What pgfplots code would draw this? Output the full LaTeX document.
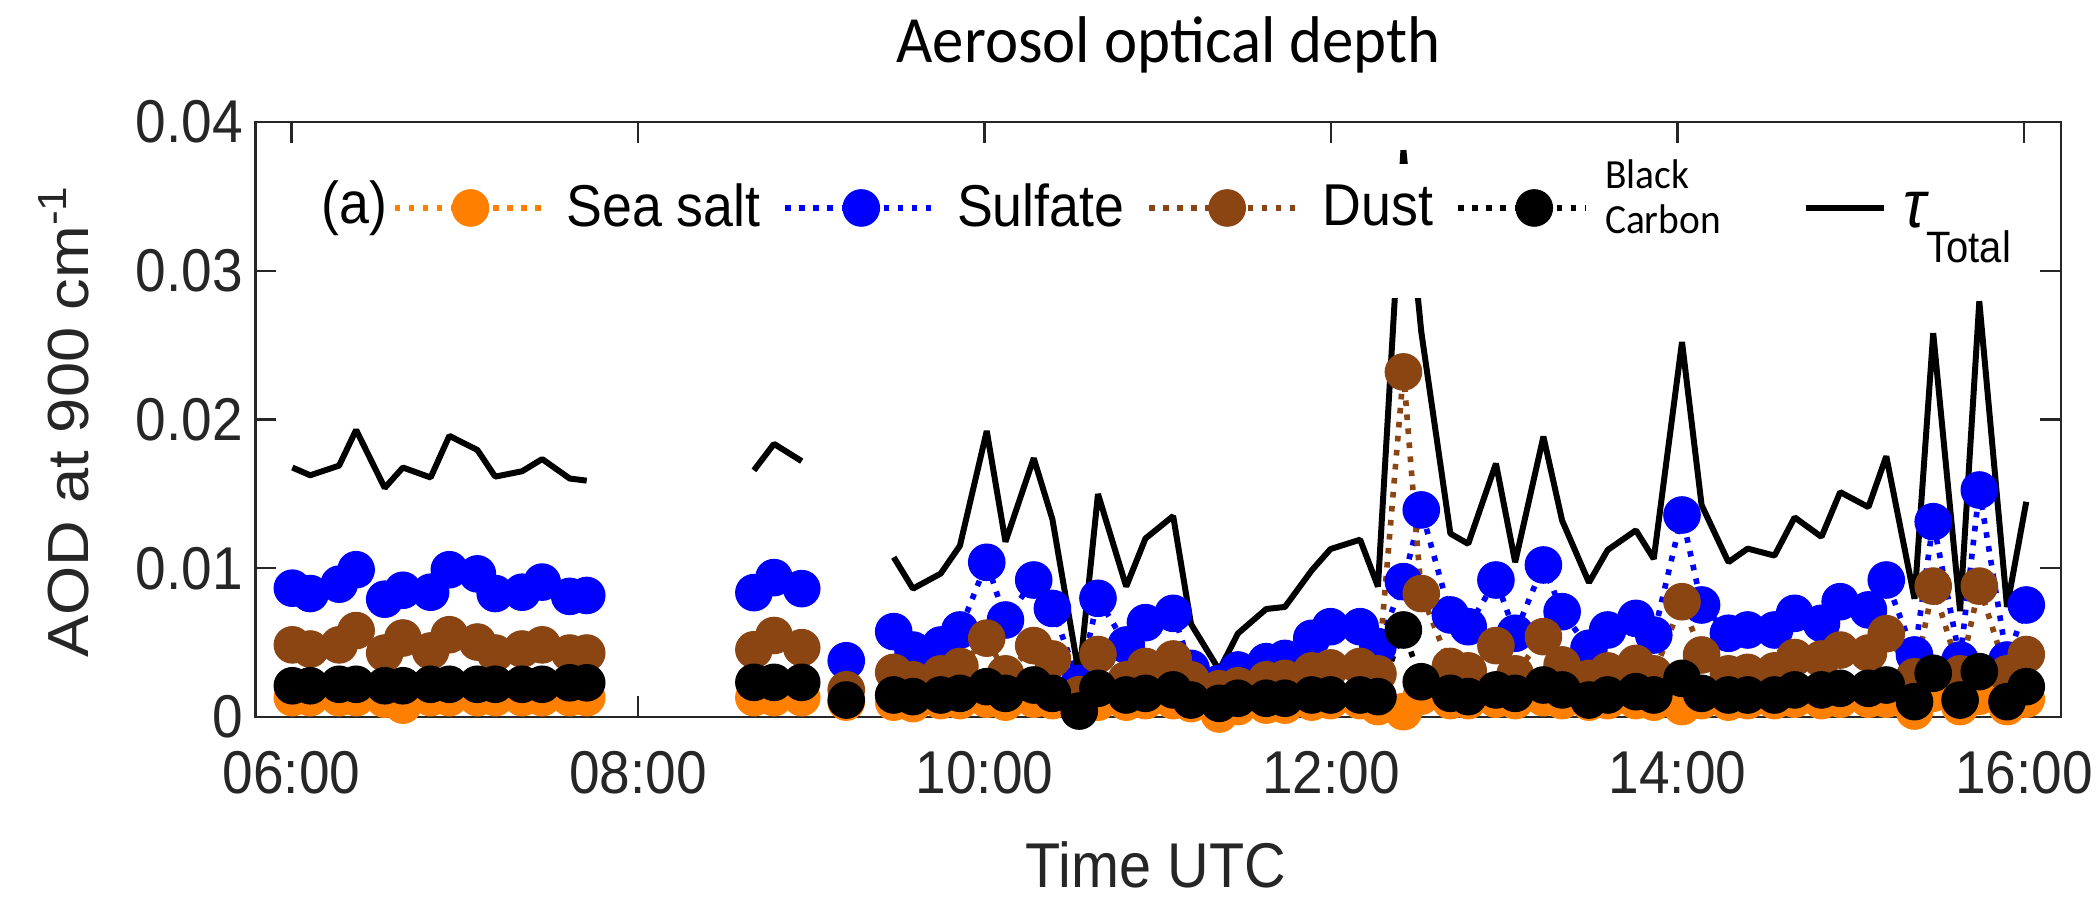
\documentclass[border=0pt]{standalone}
\usepackage{pgfplots}
\pgfplotsset{compat=1.18}
\usepackage{pgfplotstable}
\usepackage{fontspec}
\setmainfont{Liberation Sans}[FakeStretch=0.91]
\newfontfamily\ylabfont{Liberation Sans}[FakeStretch=1.09]
\newfontfamily\calibri{Carlito}[FakeStretch=0.95]
\definecolor{ssorange}{RGB}{255,128,0}
\definecolor{sublue}{RGB}{0,0,255}
\definecolor{dustbr}{RGB}{139,69,19}
\definecolor{axgray}{RGB}{38,38,38}

\pgfplotstableread{
t      ss      su       du      bc      tot
6.005  0.0013  0.00866  0.00485 0.0021  0.01677
6.108  0.0013  0.00830  0.00457 0.0021  0.01625
6.275  0.0013  0.00893  0.00485 0.0022  0.01690
6.373  0.0013  0.00990  0.00581 0.0022  0.01930
6.538  0.0012  0.00792  0.00430 0.0021  0.01540
6.643  0.0008  0.00852  0.00531 0.0021  0.01677
6.803  0.0013  0.00839  0.00444 0.0022  0.01610
6.911  0.0013  0.00990  0.00553 0.0022  0.01890
7.073  0.0013  0.00962  0.00504 0.0022  0.01795
7.176  0.0013  0.00830  0.00430 0.0022  0.01616
7.331  0.0013  0.00839  0.00457 0.0022  0.01652
7.447  0.0013  0.00907  0.00485 0.0022  0.01734
7.606  0.0013  0.00811  0.00430 0.0023  0.01603
7.704  0.0013  0.00817  0.00430 0.0023  0.01589
8.2    nan     nan      nan     nan     nan
8.669  0.0013  0.00836  0.00452 0.00233 0.01658
8.785  0.0013  0.00937  0.00548 0.00233 0.01836
8.945  0.0013  0.00863  0.00466 0.00233 0.01720
9.1    nan     nan      nan     nan     nan
9.202  0.0010  0.00378  0.00183 0.00114 nan
9.35   nan     nan      nan     nan     nan
9.476  0.0010  0.00574  0.0030  0.00148 0.01074
9.587  0.0009  0.00450  0.0025  0.00137 0.00863
9.747  0.0011  0.00484  0.0029  0.00148 0.00964
9.858  0.0011  0.00585  0.0034  0.00159 0.01151
10.013 0.0012  0.01040  0.0053  0.00204 0.01923
10.121 0.0010  0.00652  0.0029  0.00159 0.01178
10.284 0.0012  0.00921  0.0048  0.00215 0.01740
10.392 0.0011  0.00730  0.0039  0.00159 0.01329
10.547 0.0008  0.00226  0.0015  0.00040 0.00274
10.655 0.0010  0.00798  0.0042  0.00193 0.01499
10.818 0.0010  0.00484  0.0025  0.00148 0.00877
10.929 0.0011  0.00634  0.0034  0.00159 0.01200
11.089 0.0011  0.00697  0.0039  0.00182 0.01351
11.192 0.0009  0.00327  0.0025  0.00114 0.00625
11.355 0.0002  0.00226  0.0019  0.00092 0.00315
11.463 0.0007  0.00316  0.0021  0.00126 0.00562
11.626 0.0008  0.00372  0.0025  0.00126 0.00726
11.734 0.0008  0.00394  0.0026  0.00126 0.00740
11.889 0.0010  0.00529  0.0031  0.00148 0.00986
11.997 0.0011  0.00607  0.0033  0.00148 0.01129
12.168 0.0011  0.00607  0.0034  0.00148 0.01192
12.271 0.0007  0.00473  0.0029  0.00137 0.00877
12.418 0.00036 0.00910  0.0232  0.00585 0.0381
12.521 0.0014  0.01392  0.0083  0.00237 0.0259
12.689 0.0011  0.00686  0.0034  0.00159 0.01233
12.792 0.0011  0.00607  0.0031  0.00137 0.01164
12.952 0.0012  0.00921  0.0048  0.00182 0.01704
13.063 0.0011  0.00563  0.0029  0.00159 0.01041
13.226 0.0013  0.01022  0.0054  0.00215 0.01885
13.334 0.0011  0.00708  0.0035  0.00182 0.01321
13.489 0.0010  0.00462  0.0026  0.00114 0.00904
13.597 0.0011  0.00585  0.0031  0.00148 0.01123
13.760 0.0011  0.00663  0.0036  0.00170 0.01255
13.863 0.0010  0.00551  0.0029  0.00148 0.01063
14.026 0.0007  0.01358  0.00775 0.00260 0.02521
14.139 0.0011  0.00753  0.00417 0.00159 0.01425
14.294 0.0010  0.00563  0.0029  0.00148 0.01041
14.405 0.0011  0.00585  0.0030  0.00148 0.01132
14.560 0.0011  0.00585  0.0031  0.00148 0.01085
14.676 0.0012  0.00697  0.0040  0.00182 0.01342
14.831 0.0011  0.00630  0.0039  0.00182 0.01211
14.939 0.0012  0.00775  0.0045  0.00193 0.01512
15.102 0.0012  0.00720  0.0043  0.00193 0.01411
15.205 0.0012  0.00921  0.0056  0.00215 0.01753
15.368 0.0004  0.00417  0.0027  0.00103 0.00795
15.476 0.0016  0.01313  0.0088  0.00294 0.02581
15.631 0.0007  0.00383  0.0029  0.00114 0.00712
15.742 0.0014  0.01526  0.0088  0.00305 0.02795
15.902 0.0007  0.00383  0.0029  0.00103 0.00740
16.013 0.0012  0.00753  0.0042  0.00204 0.01447
}\aod

\begin{document}
\begin{tikzpicture}
\useasboundingbox (-2.554cm,-1.81cm) rectangle (18.436cm,7.17cm);
\begin{axis}[
  scale only axis, width=18.054cm, height=5.95cm,
  xmin=5.7916, xmax=16.2125, ymin=0, ymax=0.04,
  xtick={6,8,10,12,14,16},
  xticklabels={06:00,08:00,10:00,12:00,14:00,16:00},
  ytick={0,0.01,0.02,0.03,0.04},
  yticklabels={0,0.01,0.02,0.03,0.04},
  scaled y ticks=false,
  tick align=inside, tick pos=both,
  major tick length=0.21cm,
  axis line style={axgray, line width=0.7pt},
  every tick/.style={axgray, line width=0.7pt},
  tick label style={font=\fontsize{17.2}{20}\selectfont, text=axgray},
  xticklabel style={yshift=-0.22cm},
  unbounded coords=jump,
  clip=false,
  xlabel={Time UTC},
  xlabel style={font=\fontsize{18}{21}\selectfont, text=axgray, at={(axis description cs:0.4988,-0.248)}, anchor=center},
  ylabel={\ylabfont AOD at 900 cm\textsuperscript{-1}},
  ylabel style={font=\fontsize{16.5}{19}\selectfont, text=axgray, at={(axis description cs:-0.106,0.497)}, anchor=center},
  title={Aerosol optical depth},
  title style={font=\calibri\fontsize{18.8}{22}\selectfont, at={(axis description cs:0.5058,1.094)}, anchor=center},
  legend columns=5,
  legend cell align=left,
  legend style={draw=none, fill=none, at={(0.0751,0.8555)}, anchor=west, inner sep=0pt,
    font=\fontsize{16.8}{19}\selectfont,
    nodes={inner sep=0pt},
    /tikz/every even column/.append style={column sep=0.22cm},
    /tikz/every odd column/.append style={column sep=0.17cm}},
]
\addplot[ssorange, line width=1.6pt, dash pattern=on 1.6pt off 2.4pt,
  mark=*, mark size=5.2pt, mark options={solid, fill=ssorange, draw=ssorange, line width=0.3pt},
  legend image code/.code={\draw[mark repeat=2, mark phase=2] plot coordinates {(0cm,0cm)(0.76cm,0cm)(1.52cm,0cm)};}]
  table[x=t, y=ss]{\aod};
\addlegendentry{Sea salt}
\addplot[sublue, line width=1.6pt, dash pattern=on 1.6pt off 2.4pt,
  mark=*, mark size=5.2pt, mark options={solid, fill=sublue, draw=sublue, line width=0.3pt},
  legend image code/.code={\draw[mark repeat=2, mark phase=2] plot coordinates {(0cm,0cm)(0.76cm,0cm)(1.52cm,0cm)};}]
  table[x=t, y=su]{\aod};
\addlegendentry{Sulfate}
\addplot[dustbr, line width=1.6pt, dash pattern=on 1.6pt off 2.4pt,
  mark=*, mark size=5.2pt, mark options={solid, fill=dustbr, draw=dustbr, line width=0.3pt},
  legend image code/.code={\draw[mark repeat=2, mark phase=2] plot coordinates {(0cm,0cm)(0.78cm,0cm)(1.54cm,0cm)};}]
  table[x=t, y=du]{\aod};
\addlegendentry{Dust}
\addplot[black, line width=1.6pt, dash pattern=on 1.6pt off 2.4pt,
  mark=*, mark size=5.2pt, mark options={solid, fill=black, draw=black, line width=0.3pt},
  legend image code/.code={\draw[mark repeat=2, mark phase=2] plot coordinates {(0cm,0cm)(0.76cm,0cm)(1.27cm,0cm)};}]
  table[x=t, y=bc]{\aod};
\addlegendentry{\raisebox{0.68em}{\calibri\fontsize{11.8}{12.6}\selectfont\begin{tabular}{@{}l@{}}Black\\Carbon\end{tabular}}}
\addplot[black, line width=1.7pt, line join=bevel,
  legend image code/.code={\path (0cm,0cm); \draw (0.6cm,0cm) -- (1.38cm,0cm);}]
  table[x=t, y=tot]{\aod};
\addlegendentry{\raisebox{-0.15em}{\fontsize{19}{20}\selectfont\itshape τ}\raisebox{-0.75em}{\fontsize{12.5}{14}\selectfont Total}}
\fill[white] (axis cs:6.2,0.0282) rectangle (axis cs:15.9,0.0372);
\node[anchor=west, inner sep=0pt, font=\fontsize{16.8}{19}\selectfont] at (axis cs:6.17,0.0342) {(a)};
\end{axis}
\end{tikzpicture}
\end{document}
